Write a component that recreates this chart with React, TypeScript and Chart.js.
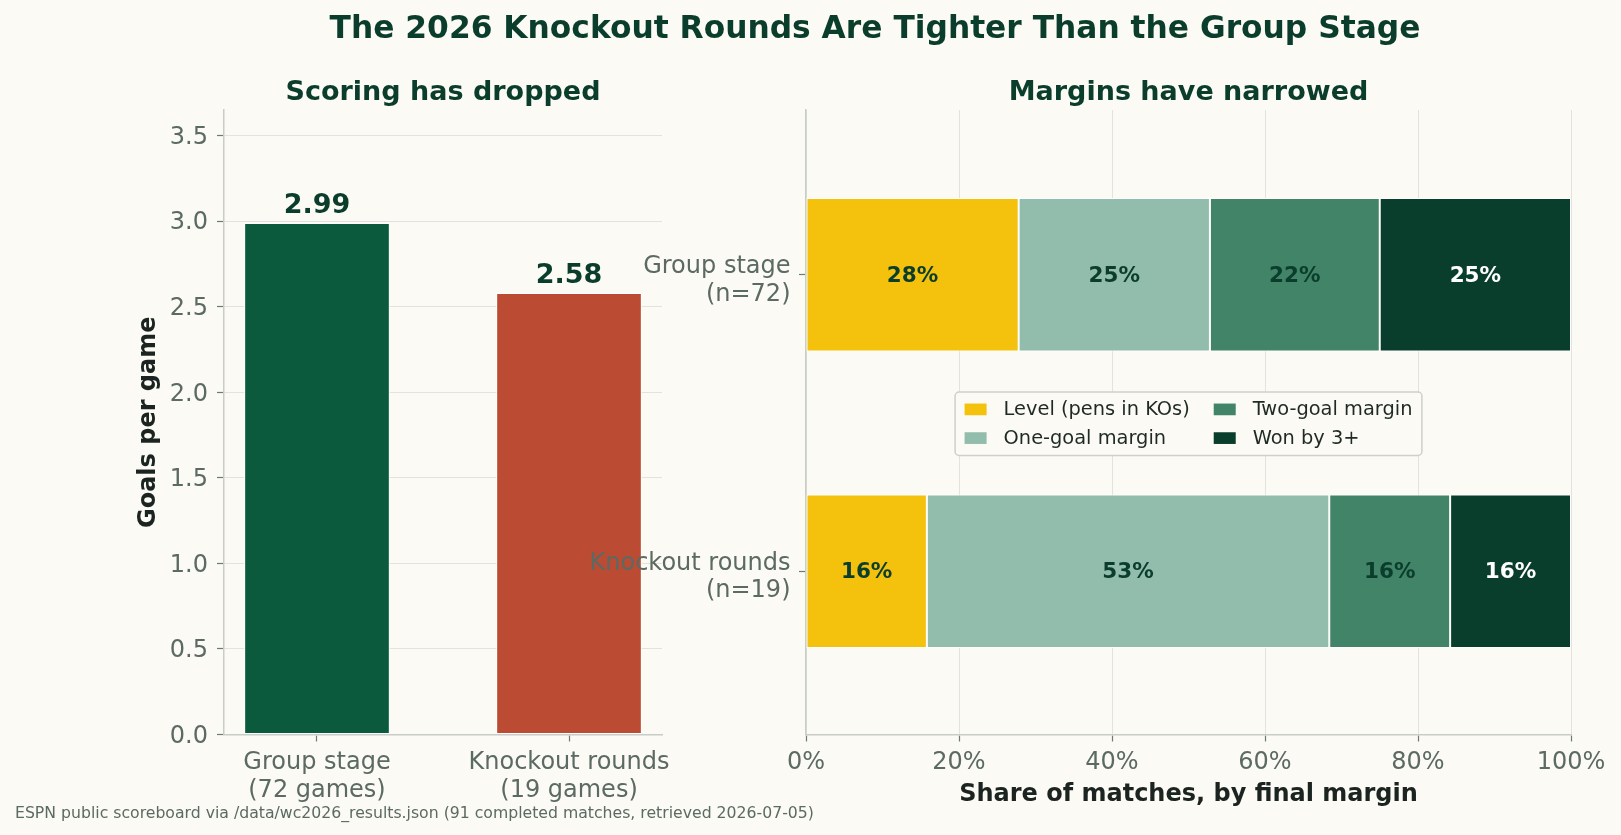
import React, { useEffect, useRef } from "react";
import { Chart, registerables } from "chart.js";

Chart.register(...registerables);

// ---------------- data ----------------
const stageLabels = [["Group stage", "(72 games)"], ["Knockout rounds", "(19 games)"]];
const goalsPerGame = [2.99, 2.58];

const marginRowLabels = [["Group stage", "(n=72)"], ["Knockout rounds", "(n=19)"]];
const marginSeriesNames = ["Level (pens in KOs)", "One-goal margin", "Two-goal margin", "Won by 3+"];
const levelPct = [27.8, 15.8];
const oneGoalPct = [25.0, 52.6];
const twoGoalPct = [22.2, 15.8];
const threePlusPct = [25.0, 15.8];
const percentTicks = [0, 20, 40, 60, 80, 100];

const mainTitle = "The 2026 Knockout Rounds Are Tighter Than the Group Stage";
const leftTitle = "Scoring has dropped";
const rightTitle = "Margins have narrowed";
const leftYTitle = "Goals per game";
const rightXTitle = "Share of matches, by final margin";
const footerText =
  "ESPN public scoreboard via /data/wc2026_results.json (91 completed matches, retrieved 2026-07-05)";

// ---------------- style ----------------
const FONT = "'DejaVu Sans', sans-serif";
const BG = "#FBFAF4";
const TITLE_C = "#0B3D2C";
const TICK_C = "#5B6A62";
const TICKMARK_C = "#6E7B74";
const LABEL_C = "#1B2420";
const GRID_C = "#E2E3DD";
const SPINE_C = "#C8CDC7";
const stageColors = ["#0B5A3E", "#BC4B33"];
const seriesColors = ["#F4C20D", "#92BCAB", "#418468", "#093D2C"];
const seriesTextColors = ["#0B3D2C", "#0B3D2C", "#0B3D2C", "#FFFFFF"];
const W = 1621;
const H = 835;
const TICK_FONT = { family: FONT, size: 24, lineHeight: 1.15 };

const leftPlugin = {
  id: "leftDecor",
  afterDatasetsDraw(chart: any) {
    const { ctx } = chart;
    const meta = chart.getDatasetMeta(0);
    ctx.save();
    ctx.font = `bold 27px ${FONT}`;
    ctx.fillStyle = TITLE_C;
    ctx.textAlign = "center";
    ctx.textBaseline = "alphabetic";
    meta.data.forEach((el: any, i: number) => {
      ctx.fillText(goalsPerGame[i].toFixed(2), el.x, el.y - 10);
    });
    ctx.restore();
  },
  afterDraw(chart: any) {
    const { ctx, chartArea: a } = chart;
    ctx.save();
    ctx.textBaseline = "alphabetic";
    ctx.fillStyle = TITLE_C;
    ctx.textAlign = "center";
    ctx.font = `bold 31.3px ${FONT}`;
    ctx.fillText(mainTitle, 875, 37.5);
    ctx.font = `bold 27px ${FONT}`;
    ctx.fillText(leftTitle, (a.left + a.right) / 2, 100);
    ctx.textAlign = "left";
    ctx.fillStyle = TICK_C;
    ctx.font = `15.7px ${FONT}`;
    ctx.fillText(footerText, 15, 817.5);
    ctx.restore();
  },
};

const rightPlugin = {
  id: "rightDecor",
  afterDatasetsDraw(chart: any) {
    const { ctx } = chart;
    ctx.save();
    ctx.font = `bold 21.5px ${FONT}`;
    ctx.textAlign = "center";
    ctx.textBaseline = "middle";
    chart.data.datasets.forEach((ds: any, di: number) => {
      const meta = chart.getDatasetMeta(di);
      meta.data.forEach((el: any, i: number) => {
        const v = ds.data[i].x;
        ctx.fillStyle = seriesTextColors[di];
        ctx.fillText(`${Math.round(v)}%`, (el.x + el.base) / 2, el.y + 1.5);
      });
    });
    ctx.restore();
  },
  afterDraw(chart: any) {
    const { ctx, chartArea: a } = chart;
    ctx.save();
    // subtitle
    ctx.fillStyle = TITLE_C;
    ctx.textAlign = "center";
    ctx.textBaseline = "alphabetic";
    ctx.font = `bold 27px ${FONT}`;
    ctx.fillText(rightTitle, (a.left + a.right) / 2, 100);

    // legend (two rows, column-major like the reference)
    ctx.font = `19.4px ${FONT}`;
    const items = chart.data.datasets.map((d: any) => ({ text: d.label, color: d.backgroundColor }));
    const rows = 2;
    const cols = Math.ceil(items.length / rows);
    const pad = 9.5, sw = 22, sh = 11.7, gap = 17, colGap = 24, rowH = 28.7, vpad = 17.3;
    const colW: number[] = [];
    for (let c = 0; c < cols; c++) {
      let m = 0;
      for (let r = 0; r < rows; r++) {
        const it = items[c * rows + r];
        if (it) m = Math.max(m, ctx.measureText(it.text).width);
      }
      colW.push(m);
    }
    const boxW = pad * 2 + colW.reduce((s, w) => s + sw + gap + w, 0) + colGap * (cols - 1);
    const boxH = vpad * 2 + rowH * (rows - 1);
    const x0 = (a.left + a.right) / 2 - boxW / 2;
    const y0 = (a.top + a.bottom) / 2 - boxH / 2 + 1.5;
    ctx.beginPath();
    (ctx as any).roundRect(x0, y0, boxW, boxH, 4);
    ctx.fillStyle = BG;
    ctx.fill();
    ctx.lineWidth = 1.5;
    ctx.strokeStyle = "#CFCFCB";
    ctx.stroke();
    ctx.textAlign = "left";
    ctx.textBaseline = "middle";
    let cx = x0 + pad;
    for (let c = 0; c < cols; c++) {
      for (let r = 0; r < rows; r++) {
        const it = items[c * rows + r];
        if (!it) continue;
        const cy = y0 + vpad + r * rowH;
        ctx.fillStyle = it.color;
        ctx.fillRect(cx, cy - sh / 2, sw, sh);
        ctx.fillStyle = "#1F2A24";
        ctx.fillText(it.text, cx + sw + gap, cy + 0.5);
      }
      cx += sw + gap + colW[c] + colGap;
    }
    ctx.restore();
  },
};

export default function App() {
  const leftRef = useRef<HTMLCanvasElement | null>(null);
  const rightRef = useRef<HTMLCanvasElement | null>(null);

  useEffect(() => {
    const left = new Chart(leftRef.current as HTMLCanvasElement, {
      type: "bar",
      data: {
        datasets: [
          {
            label: leftYTitle,
            data: goalsPerGame.map((v, i) => ({ x: i, y: v })),
            backgroundColor: stageColors,
            borderColor: "#FFFFFF",
            borderWidth: 1,
            borderSkipped: false,
            barPercentage: 0.578,
            categoryPercentage: 1,
          },
        ],
      } as any,
      options: {
        responsive: false,
        animation: false,
        devicePixelRatio: 1,
        events: [],
        layout: { padding: { left: 134, top: 110, right: W - 662, bottom: 26 } },
        plugins: { legend: { display: false }, tooltip: { enabled: false }, title: { display: false } },
        scales: {
          x: {
            type: "linear",
            min: -0.369,
            max: 1.369,
            offset: false,
            afterBuildTicks: (s: any) => {
              s.ticks = stageLabels.map((_, i) => ({ value: i }));
            },
            afterFit: (s: any) => {
              s.height = 74.5;
            },
            ticks: {
              callback: (_v: any, i: number) => stageLabels[i],
              font: TICK_FONT,
              color: TICK_C,
              padding: 7.5,
              maxRotation: 0,
              autoSkip: false,
            },
            grid: { offset: false, drawOnChartArea: false, drawTicks: true, tickLength: 7, tickColor: TICKMARK_C, tickWidth: 1.2 },
            border: { display: true, color: SPINE_C, width: 1.5 },
          },
          y: {
            type: "linear",
            min: 0,
            max: 3.65,
            afterFit: (s: any) => {
              s.width = 90;
            },
            ticks: {
              stepSize: 0.5,
              includeBounds: false,
              callback: (v: any) => Number(v).toFixed(1),
              font: TICK_FONT,
              color: TICK_C,
              padding: 9,
              labelOffset: 2,
            },
            grid: { color: GRID_C, lineWidth: 1, drawTicks: true, tickLength: 7, tickColor: TICKMARK_C, tickWidth: 1.2 },
            border: { display: true, color: SPINE_C, width: 1.5 },
            title: {
              display: true,
              text: leftYTitle,
              color: LABEL_C,
              font: { family: FONT, size: 24, weight: "bold", lineHeight: 1.2 },
              padding: 0,
            },
          },
        },
      } as any,
      plugins: [leftPlugin],
    });

    const seriesValues = [levelPct, oneGoalPct, twoGoalPct, threePlusPct];
    const right = new Chart(rightRef.current as HTMLCanvasElement, {
      type: "bar",
      data: {
        datasets: marginSeriesNames.map((name, di) => ({
          label: name,
          data: seriesValues[di].map((v, i) => ({ x: v, y: i })),
          backgroundColor: seriesColors[di],
          borderColor: "#FFFFFF",
          borderWidth: 1,
          borderSkipped: false,
          barPercentage: 0.5175,
          categoryPercentage: 1,
        })),
      } as any,
      options: {
        indexAxis: "y",
        responsive: false,
        animation: false,
        devicePixelRatio: 1,
        events: [],
        layout: { padding: { left: 560, top: 110, right: W - 1571, bottom: 26 } },
        plugins: { legend: { display: false }, tooltip: { enabled: false }, title: { display: false } },
        scales: {
          x: {
            type: "linear",
            stacked: true,
            min: 0,
            max: 100,
            afterBuildTicks: (s: any) => {
              s.ticks = percentTicks.map((v) => ({ value: v }));
            },
            afterFit: (s: any) => {
              s.height = 74.5;
            },
            ticks: {
              callback: (v: any) => `${v}%`,
              font: TICK_FONT,
              color: TICK_C,
              padding: 7.5,
              maxRotation: 0,
              autoSkip: false,
            },
            grid: { color: GRID_C, lineWidth: 1, drawTicks: true, tickLength: 7, tickColor: TICKMARK_C, tickWidth: 1.2 },
            border: { display: true, color: SPINE_C, width: 1.5 },
            title: {
              display: true,
              text: rightXTitle,
              color: LABEL_C,
              font: { family: FONT, size: 24, weight: "bold", lineHeight: 1.2 },
              padding: 0,
            },
          },
          y: {
            type: "linear",
            stacked: true,
            reverse: true,
            min: -0.555,
            max: 1.55,
            offset: false,
            afterBuildTicks: (s: any) => {
              s.ticks = marginRowLabels.map((_, i) => ({ value: i }));
            },
            afterFit: (s: any) => {
              s.width = 246;
            },
            ticks: {
              callback: (_v: any, i: number) => marginRowLabels[i],
              font: TICK_FONT,
              color: TICK_C,
              padding: 8.5,
              labelOffset: 6,
              autoSkip: false,
            },
            grid: { offset: false, drawOnChartArea: false, drawTicks: true, tickLength: 7, tickColor: TICKMARK_C, tickWidth: 1.2 },
            border: { display: true, color: SPINE_C, width: 1.5 },
          },
        },
      } as any,
      plugins: [rightPlugin],
    });

    return () => {
      left.destroy();
      right.destroy();
    };
  }, []);

  const canvasStyle: React.CSSProperties = { position: "absolute", left: 0, top: 0, width: W, height: H };
  return (
    <div style={{ position: "fixed", left: 0, top: 0, width: W, height: H, background: BG, overflow: "hidden" }}>
      <canvas ref={leftRef} width={W} height={H} style={canvasStyle} />
      <canvas ref={rightRef} width={W} height={H} style={canvasStyle} />
    </div>
  );
}
